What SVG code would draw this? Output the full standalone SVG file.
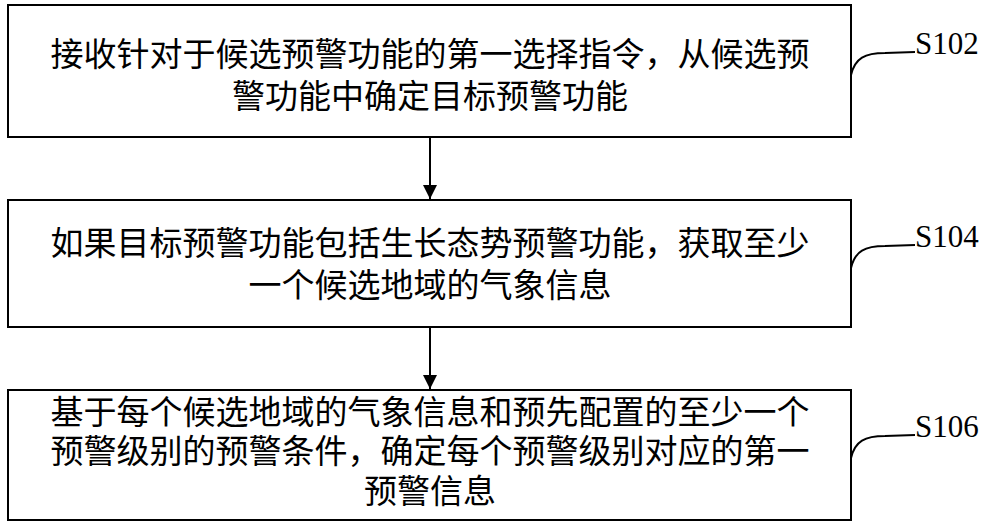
<svg xmlns="http://www.w3.org/2000/svg" width="1000" height="527" viewBox="0 0 1000 527">
<defs>
<style>
.box{fill:#fff;stroke:#000;stroke-width:2}
.t{font-family:"Noto Sans CJK SC","Noto Sans CJK JP",sans-serif;font-size:33px;fill:#000;text-anchor:middle}
.l{font-family:"Liberation Serif",serif;font-size:31px;fill:#000}
.c{fill:none;stroke:#000;stroke-width:2}
</style>
<marker id="a" viewBox="0 0 10 10" refX="10" refY="5" markerWidth="14" markerHeight="16" orient="auto" markerUnits="userSpaceOnUse"><path d="M0,0 L10,5 L0,10 z" fill="#000"/></marker>
</defs>
<rect width="1000" height="527" fill="#fff"/>
<g id="s102">
<rect class="box" x="8" y="5" width="843" height="132"/>
<text class="t" x="430" y="66">接收针对于候选预警功能的第一选择指令，从候选预</text>
<text class="t" x="430" y="108">警功能中确定目标预警功能</text>
<text class="l" x="915" y="54">S102</text>
</g>
<g id="s104">
<rect class="box" x="8" y="200" width="843" height="127"/>
<text class="t" x="430" y="255">如果目标预警功能包括生长态势预警功能，获取至少</text>
<text class="t" x="430" y="297">一个候选地域的气象信息</text>
<text class="l" x="915" y="247">S104</text>
</g>
<g id="s106">
<rect class="box" x="8" y="390" width="843" height="130"/>
<text class="t" x="430" y="424">基于每个候选地域的气象信息和预先配置的至少一个</text>
<text class="t" x="430" y="463">预警级别的预警条件，确定每个预警级别对应的第一</text>
<text class="t" x="430" y="503">预警信息</text>
<text class="l" x="915" y="437">S106</text>
</g>
<g id="connectors">
<line class="c" x1="430" y1="137" x2="430" y2="199" marker-end="url(#a)" stroke-width="2.5"/>
<line class="c" x1="430" y1="327" x2="430" y2="389" marker-end="url(#a)" stroke-width="2.5"/>
<path class="c" d="M851,75 C855,58 865,53 885,53 L915,52"/>
<path class="c" d="M851,268 C855,251 865,246 885,246 L915,245"/>
<path class="c" d="M851,458 C855,441 865,436 885,436 L915,435"/>
</g>
</svg>
